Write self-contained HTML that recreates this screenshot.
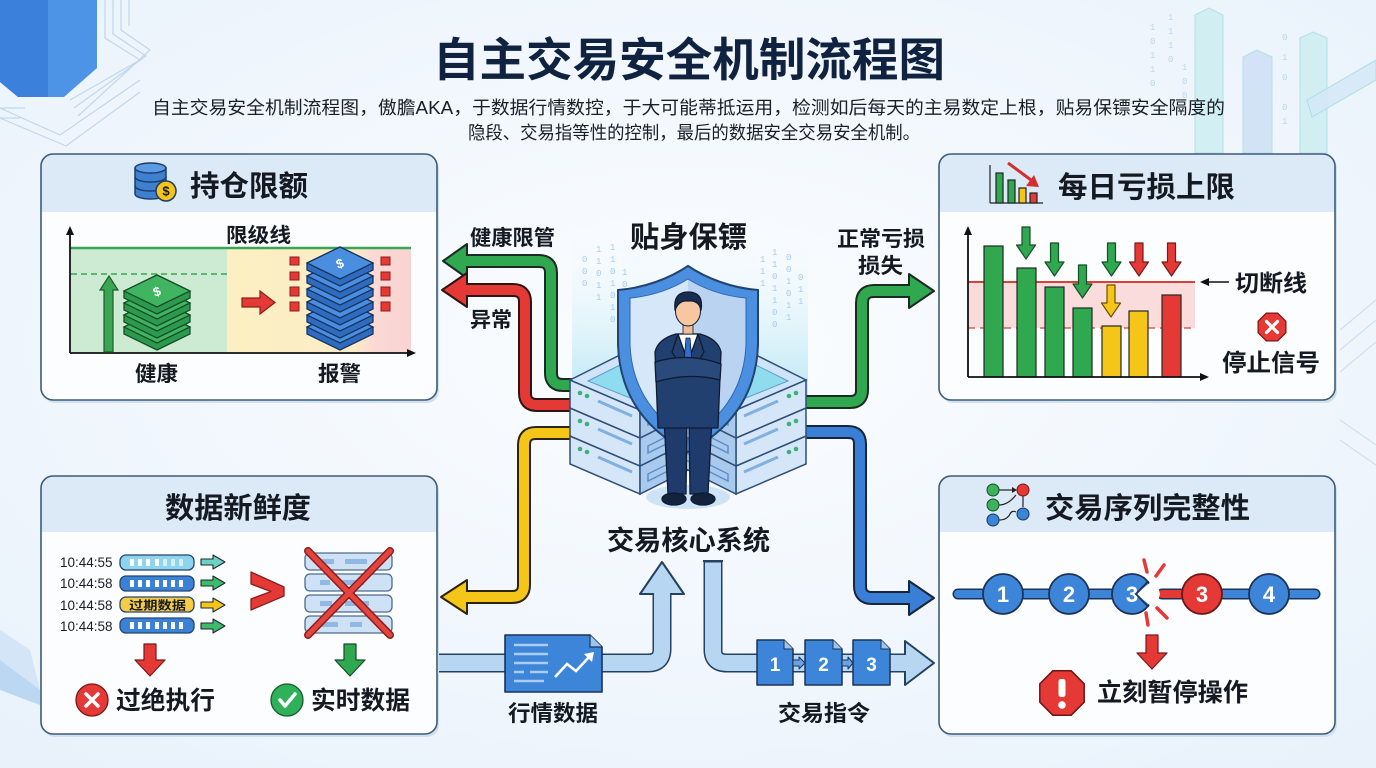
<!DOCTYPE html>
<html><head><meta charset="utf-8">
<style>
html,body{margin:0;padding:0;width:1376px;height:768px;overflow:hidden;background:#eef5fc;}
svg{display:block;}
.t{font-family:"Liberation Sans","Noto Sans CJK SC",sans-serif;font-weight:700;fill:#141922;}
.n{font-family:"Liberation Sans","Noto Sans CJK SC",sans-serif;font-weight:400;fill:#1a1f27;}
.d{font-family:"Liberation Mono",monospace;fill:#a9cce8;font-size:9px;}
</style></head><body>
<svg width="1376" height="768" viewBox="0 0 1376 768" xmlns="http://www.w3.org/2000/svg">
<defs>
 <radialGradient id="bg" cx="50%" cy="45%" r="70%"><stop offset="0" stop-color="#fbfdff"/><stop offset="1" stop-color="#e9f2fb"/></radialGradient>
 <linearGradient id="yp" x1="0" x2="1"><stop offset="0" stop-color="#fcf0c2"/><stop offset="0.68" stop-color="#fcecc6"/><stop offset="0.8" stop-color="#fbd9d5"/><stop offset="1" stop-color="#f9d3d1"/></linearGradient>
 <linearGradient id="glow" x1="0" y1="0" x2="0" y2="1"><stop offset="0" stop-color="#eaf7fc" stop-opacity="0"/><stop offset="1" stop-color="#b3e4f3"/></linearGradient>
 <linearGradient id="sh" x1="0" x2="1"><stop offset="0.5" stop-color="#d6e7f9"/><stop offset="0.5" stop-color="#b9d3f1"/></linearGradient>
 <g id="gs"><polygon points="124,291 157,275 190,291 190,298 157,314 124,298" fill="#2b9a4c" stroke="#174d27" stroke-width="1.3"/><polygon points="124,291 157,275 190,291 157,307" fill="#3fb562" stroke="#174d27" stroke-width="1.3"/></g>
 <g id="bs"><polygon points="307,263 340,247 373,263 373,270 340,286 307,270" fill="#2f6cc0" stroke="#173563" stroke-width="1.3"/><polygon points="307,263 340,247 373,263 340,279" fill="#4a8ee0" stroke="#173563" stroke-width="1.3"/></g>
 <g id="layer">
  <polygon points="570,380 640,410 640,438 570,408" fill="#d5e6f8" stroke="#2d4f78" stroke-width="1.5"/>
  <polygon points="640,410 700,380 700,408 640,438" fill="#a9caec" stroke="#2d4f78" stroke-width="1.5"/>
  <circle cx="580" cy="393" r="2.3" fill="#3bb07a"/><circle cx="587" cy="396" r="2.3" fill="#3bb07a"/>
  <line x1="598" y1="401" x2="632" y2="416" stroke="#7fb0e0" stroke-width="3"/>
  <polygon points="648,418 690,397 690,404 648,425" fill="none" stroke="#5d8fca" stroke-width="1.5"/>
 </g>
 <g id="stack">
  <use href="#layer" transform="translate(0,56)"/>
  <use href="#layer" transform="translate(0,28)"/>
  <use href="#layer"/>
  <polygon points="570,380 630,350 700,380 640,410" fill="#cfe4f7" stroke="#2d4f78" stroke-width="1.5"/>
  <polygon points="588,381 630,360 684,381 640,402" fill="#8fdcee" stroke="#5d9bd0" stroke-width="1"/>
 </g>
</defs>
<rect width="1376" height="768" fill="url(#bg)"/>

<!-- background decorations -->
<polygon points="0,0 97,0 97,68 64,97 18,97 0,82" fill="#4d93e6"/>
<polygon points="0,0 48,0 48,97 18,97 0,82" fill="#3b80da"/>
<g fill="none" stroke="#c3d6ec" stroke-width="1.2">
<polyline points="105,0 105,38 140,60 70,100"/><polyline points="113,0 113,34 146,56 74,108"/>
<polyline points="121,0 121,30 150,50 78,116"/><polyline points="129,0 129,26"/>
<polyline points="0,108 60,135 140,80"/><polyline points="0,118 66,146 140,92"/>
<line x1="0" y1="108" x2="25" y2="108"/><line x1="0" y1="118" x2="20" y2="118"/>
</g>
<polygon points="0,630 30,650 40,690 0,680" fill="#d3e5f6"/>
<polygon points="0,660 40,690 40,705 0,690" fill="#bcd7f1"/>
<g fill="none" stroke="#cfe0f1" stroke-width="1.2">
<line x1="1340" y1="330" x2="1376" y2="300"/><line x1="1340" y1="350" x2="1376" y2="320"/><line x1="1340" y1="372" x2="1376" y2="342"/>
<line x1="1340" y1="420" x2="1376" y2="445"/><line x1="1340" y1="440" x2="1376" y2="465"/>
</g>
<!-- top right 3D bars -->
<g stroke="#a9dce6" stroke-width="1">
<polygon points="1195,15 1209,8 1223,15 1223,153 1195,153" fill="#cdeef2" opacity="0.85"/>
<polygon points="1243,57 1257,50 1272,57 1272,153 1243,153" fill="#cfe0f5" opacity="0.85"/>
<polygon points="1300,38 1313,32 1327,38 1327,153 1300,153" fill="#cdeef2" opacity="0.85"/>
<polygon points="1307,100 1376,60 1376,80 1312,117" fill="#d6e8f8" opacity="0.9"/>
</g>
<text class="d" style="fill:#bcd6ea"><tspan x="1150" y="30">1</tspan><tspan x="1150" y="44">0</tspan><tspan x="1150" y="58">1</tspan><tspan x="1150" y="72">1</tspan><tspan x="1150" y="86">0</tspan><tspan x="1168" y="20">1</tspan><tspan x="1168" y="34">1</tspan><tspan x="1168" y="48">1</tspan><tspan x="1168" y="62">0</tspan><tspan x="1182" y="70">1</tspan><tspan x="1182" y="84">0</tspan><tspan x="1182" y="98">0</tspan><tspan x="1282" y="40">0</tspan><tspan x="1282" y="60">1</tspan><tspan x="1282" y="80">0</tspan><tspan x="1282" y="110">0</tspan><tspan x="1282" y="124">1</tspan></text>

<!-- title -->
<text class="t" x="433" y="76" font-size="46" textLength="512" lengthAdjust="spacingAndGlyphs" style="fill:#0f2340">自主交易安全机制流程图</text>
<text class="n" x="152" y="114" font-size="18" textLength="1073" lengthAdjust="spacingAndGlyphs">自主交易安全机制流程图，傲膽AKA，于数据行情数控，于大可能蒂抵运用，检测如后每天的主易数定上根，贴易保镖安全隔度的</text>
<text class="n" x="468" y="139" font-size="18" textLength="452" lengthAdjust="spacingAndGlyphs">隐段、交易指等性的控制，最后的数据安全交易安全机制。</text>

<!-- center glow and data rain -->
<rect x="572" y="238" width="236" height="170" fill="url(#glow)"/>
<text class="d"><tspan x="582" y="262">0</tspan><tspan x="582" y="274">0</tspan><tspan x="582" y="286">0</tspan><tspan x="596" y="252">1</tspan><tspan x="596" y="264">1</tspan><tspan x="596" y="276">0</tspan><tspan x="596" y="288">1</tspan><tspan x="596" y="300">1</tspan><tspan x="610" y="250">1</tspan><tspan x="610" y="262">1</tspan><tspan x="610" y="274">0</tspan><tspan x="610" y="286">1</tspan><tspan x="610" y="298">0</tspan><tspan x="610" y="310">1</tspan><tspan x="610" y="322">0</tspan><tspan x="622" y="275">1</tspan><tspan x="622" y="287">0</tspan><tspan x="622" y="299">0</tspan><tspan x="622" y="311">0</tspan><tspan x="622" y="323">1</tspan><tspan x="622" y="335">0</tspan><tspan x="622" y="347">0</tspan><tspan x="760" y="262">1</tspan><tspan x="760" y="274">1</tspan><tspan x="760" y="286">1</tspan><tspan x="772" y="255">1</tspan><tspan x="772" y="267">1</tspan><tspan x="772" y="279">0</tspan><tspan x="772" y="291">1</tspan><tspan x="772" y="303">1</tspan><tspan x="772" y="315">0</tspan><tspan x="772" y="327">0</tspan><tspan x="786" y="260">0</tspan><tspan x="786" y="272">0</tspan><tspan x="786" y="284">1</tspan><tspan x="786" y="296">0</tspan><tspan x="786" y="308">1</tspan><tspan x="786" y="320">1</tspan><tspan x="798" y="280">0</tspan><tspan x="798" y="292">1</tspan><tspan x="798" y="304">1</tspan><tspan x="748" y="300">1</tspan><tspan x="748" y="312">0</tspan><tspan x="748" y="324">1</tspan><tspan x="748" y="336">1</tspan></text>

<!-- connector bands -->
<g fill="none" stroke-linejoin="round">
 <path d="M600,385 H563 Q551,385 551,373 V273 Q551,261 539,261 H466" stroke="#1b2a22" stroke-width="14"/>
 <path d="M600,405 H537 Q525,405 525,393 V302 Q525,290 513,290 H466" stroke="#2a1616" stroke-width="14"/>
 <path d="M600,433 H536 Q524,433 524,445 V585 Q524,597 512,597 H466" stroke="#2a2410" stroke-width="14"/>
 <path d="M780,402 H850 Q862,402 862,390 V303 Q862,291 874,291 H910" stroke="#1b2a22" stroke-width="14"/>
 <path d="M780,432 H848 Q860,432 860,444 V586 Q860,598 872,598 H910" stroke="#17263a" stroke-width="14"/>
 <path d="M437,663 H648 Q662,663 662,649 V593" stroke="#25415f" stroke-width="19"/>
 <path d="M713,561 V650 Q713,663 727,663 H906" stroke="#25415f" stroke-width="19"/>
</g>
<g stroke-linejoin="round" stroke-width="2">
 <polygon points="443,261 467,244 467,278" fill="#2fa84f" stroke="#1b2a22"/>
 <polygon points="442,290 467,273 467,307" fill="#e53935" stroke="#2a1616"/>
 <polygon points="441,597 467,580 467,614" fill="#f5c518" stroke="#2a2410"/>
 <polygon points="934,291 909,274 909,308" fill="#2fa84f" stroke="#1b2a22"/>
 <polygon points="934,598 909,581 909,615" fill="#3a7fd6" stroke="#17263a"/>
 <polygon points="662,562 640,594 684,594" fill="#b7d6f1" stroke="#25415f"/>
 <polygon points="934,663 905,641 905,685" fill="#b7d6f1" stroke="#25415f"/>
</g>
<line x1="703" y1="561" x2="723" y2="561" stroke="#25415f" stroke-width="2"/>
<g fill="none" stroke-linejoin="round">
 <path d="M600,385 H563 Q551,385 551,373 V273 Q551,261 539,261 H460" stroke="#2fa84f" stroke-width="10"/>
 <path d="M600,405 H537 Q525,405 525,393 V302 Q525,290 513,290 H460" stroke="#e53935" stroke-width="10"/>
 <path d="M600,433 H536 Q524,433 524,445 V585 Q524,597 512,597 H460" stroke="#f5c518" stroke-width="10"/>
 <path d="M780,402 H850 Q862,402 862,390 V303 Q862,291 874,291 H916" stroke="#2fa84f" stroke-width="10"/>
 <path d="M780,432 H848 Q860,432 860,444 V586 Q860,598 872,598 H916" stroke="#3a7fd6" stroke-width="10"/>
 <path d="M437,663 H648 Q662,663 662,649 V588" stroke="#b7d6f1" stroke-width="16"/>
 <path d="M713,562.5 V650 Q713,663 727,663 H912" stroke="#b7d6f1" stroke-width="16"/>
</g>

<!-- market data doc -->
<path d="M505,635 H590 L602,647 V692 H505 Z" fill="#3d85d8" stroke="#1c3358" stroke-width="1.6" stroke-linejoin="round"/>
<path d="M590,635 V647 H602" fill="#9cc4ee" stroke="#1c3358" stroke-width="1.2"/>
<g stroke="#a9cdf2" stroke-width="2.5">
<line x1="514" y1="645" x2="548" y2="645"/><line x1="514" y1="654" x2="548" y2="654"/><line x1="514" y1="663" x2="548" y2="663"/><line x1="514" y1="672" x2="524" y2="672"/><line x1="530" y1="672" x2="548" y2="672"/><line x1="514" y1="681" x2="544" y2="681"/>
</g>
<polyline points="555,677 567,664 576,671 590,656" fill="none" stroke="#ffffff" stroke-width="2.6"/>
<polygon points="594,652 584,654 592,662" fill="#ffffff"/>
<!-- order docs -->
<g stroke-linejoin="round">
<path d="M757,640 H784 L793,649 V685 H757 Z" fill="#3d85d8" stroke="#1c3358" stroke-width="1.5"/><path d="M784,640 V649 H793" fill="#9cc4ee" stroke="#1c3358" stroke-width="1"/>
<path d="M805,640 H833 L842,649 V685 H805 Z" fill="#3d85d8" stroke="#1c3358" stroke-width="1.5"/><path d="M833,640 V649 H842" fill="#9cc4ee" stroke="#1c3358" stroke-width="1"/>
<path d="M853,640 H881 L890,649 V685 H853 Z" fill="#3d85d8" stroke="#1c3358" stroke-width="1.5"/><path d="M881,640 V649 H890" fill="#9cc4ee" stroke="#1c3358" stroke-width="1"/>
<polygon points="793,660 799,660 799,657 805,663 799,669 799,666 793,666" fill="#6aa3e3" stroke="#1c3358" stroke-width="1"/>
<polygon points="842,660 848,660 848,657 853,663 848,669 848,666 842,666" fill="#6aa3e3" stroke="#1c3358" stroke-width="1"/>
</g>
<text class="t" x="775" y="671" font-size="19" text-anchor="middle" style="fill:#fff">1</text>
<text class="t" x="823.5" y="671" font-size="19" text-anchor="middle" style="fill:#fff">2</text>
<text class="t" x="871.5" y="671" font-size="19" text-anchor="middle" style="fill:#fff">3</text>

<!-- servers -->
<ellipse cx="688" cy="497" rx="42" ry="12" fill="#cfe3f6"/>
<use href="#stack"/>
<use href="#stack" transform="matrix(-1 0 0 1 1376 0)"/>
<!-- shield -->
<path d="M688,266 C670,278 645,288 618,290 L618,345 C620,400 650,432 688,452 C726,432 756,400 758,345 L758,290 C731,288 706,278 688,266 Z" fill="#4a8fe0" stroke="#23446e" stroke-width="2"/>
<path d="M688,279 C672,289 652,296 630,298 L630,345 C632,392 658,421 688,438 C718,421 744,392 746,345 L746,298 C724,296 704,289 688,279 Z" fill="url(#sh)" stroke="#2f67b0" stroke-width="1"/>
<!-- person -->
<g stroke="#0d1b33" stroke-width="1.3" stroke-linejoin="round">
<polygon points="664,418 687,418 686,494 668,494" fill="#1f3b6b"/>
<polygon points="689,418 712,418 708,494 690,494" fill="#1f3b6b"/>
<ellipse cx="674" cy="499" rx="12" ry="6" fill="#13223d"/>
<ellipse cx="703" cy="499" rx="12" ry="6" fill="#13223d"/>
<path d="M655,352 Q658,339 676,334 L700,334 Q718,339 721,352 L718,428 L658,428 Z" fill="#22406f"/>
<polygon points="678,334 698,334 688,362" fill="#ffffff"/>
<polygon points="686,338 690,338 692,362 688,368 684,362" fill="#2f6fd0" stroke-width="0.8"/>
<path d="M678,334 L672,352 L684,372 M698,334 L704,352 L692,372" fill="none"/>
<path d="M655,362 Q688,352 721,364 L720,380 Q688,372 656,382 Z" fill="#2a4a7c"/>
<rect x="683" y="322" width="10" height="12" fill="#f1bd97" stroke-width="0.8"/>
<ellipse cx="688" cy="311" rx="12.5" ry="15" fill="#f6c7a1" stroke-width="1"/>
<path d="M675,310 Q673,292 688,292 Q704,292 701,310 Q699,300 688,301 Q679,300 675,310 Z" fill="#1b2d4f"/>
</g>

<!-- center labels -->
<text class="t" x="630" y="247" font-size="29" textLength="117" lengthAdjust="spacingAndGlyphs">贴身保镖</text>
<text class="t" x="470" y="245" font-size="21" textLength="85" lengthAdjust="spacingAndGlyphs">健康限管</text>
<text class="t" x="470" y="327" font-size="21" textLength="42" lengthAdjust="spacingAndGlyphs">异常</text>
<text class="t" x="837" y="246" font-size="21" textLength="88" lengthAdjust="spacingAndGlyphs">正常亏损</text>
<text class="t" x="858" y="273" font-size="21" textLength="45" lengthAdjust="spacingAndGlyphs">损失</text>
<text class="t" x="607" y="550" font-size="27" textLength="163" lengthAdjust="spacingAndGlyphs">交易核心系统</text>
<text class="t" x="508" y="721" font-size="22" textLength="90" lengthAdjust="spacingAndGlyphs">行情数据</text>
<text class="t" x="778" y="721" font-size="22" textLength="92" lengthAdjust="spacingAndGlyphs">交易指令</text>

<!-- PANELS frames -->
<g>
<rect x="43" y="157" width="396" height="246" rx="12" fill="#cfe0f1"/>
<rect x="41" y="154" width="396" height="246" rx="12" fill="#fcfdff"/>
<path d="M41,212 V166 Q41,154 53,154 H425 Q437,154 437,166 V212 Z" fill="#dce9f7"/>
<rect x="41" y="154" width="396" height="246" rx="12" fill="none" stroke="#3e5b78" stroke-width="1.6"/>

<rect x="941" y="157" width="396" height="246" rx="12" fill="#cfe0f1"/>
<rect x="939" y="154" width="396" height="246" rx="12" fill="#fcfdff"/>
<path d="M939,212 V166 Q939,154 951,154 H1323 Q1335,154 1335,166 V212 Z" fill="#dce9f7"/>
<rect x="939" y="154" width="396" height="246" rx="12" fill="none" stroke="#3e5b78" stroke-width="1.6"/>

<rect x="43" y="479" width="396" height="258" rx="12" fill="#cfe0f1"/>
<rect x="41" y="476" width="396" height="258" rx="12" fill="#fcfdff"/>
<path d="M41,532 V488 Q41,476 53,476 H425 Q437,476 437,488 V532 Z" fill="#dce9f7"/>
<rect x="41" y="476" width="396" height="258" rx="12" fill="none" stroke="#3e5b78" stroke-width="1.6"/>

<rect x="941" y="479" width="396" height="258" rx="12" fill="#cfe0f1"/>
<rect x="939" y="476" width="396" height="258" rx="12" fill="#fcfdff"/>
<path d="M939,532 V488 Q939,476 951,476 H1323 Q1335,476 1335,488 V532 Z" fill="#dce9f7"/>
<rect x="939" y="476" width="396" height="258" rx="12" fill="none" stroke="#3e5b78" stroke-width="1.6"/>
</g>

<!-- P1 持仓限额 -->
<g stroke="#1f3d66" stroke-width="1.5">
<path d="M135,168 V194 A15.5,5 0 0 0 166,194 V168" fill="#3d7fd0"/>
<ellipse cx="150.5" cy="168" rx="15.5" ry="5" fill="#5a9be6"/>
<path d="M135,177 A15.5,5 0 0 0 166,177 M135,186 A15.5,5 0 0 0 166,186" fill="none"/>
<circle cx="166" cy="191" r="10" fill="#f5c518"/>
</g>
<text class="t" x="166" y="195.5" font-size="13" text-anchor="middle">$</text>
<text class="t" x="190" y="196" font-size="29" textLength="118" lengthAdjust="spacingAndGlyphs">持仓限额</text>

<rect x="71" y="248" width="156" height="105" fill="#cdebd2"/>
<rect x="227" y="248" width="184" height="105" fill="url(#yp)"/>
<line x1="71" y1="274" x2="227" y2="274" stroke="#3aa655" stroke-width="1.5" stroke-dasharray="6 4"/>
<line x1="70" y1="248" x2="411" y2="248" stroke="#3aa655" stroke-width="2.5"/>
<line x1="70" y1="233" x2="70" y2="353" stroke="#111" stroke-width="1.8"/>
<polygon points="70,226 66,235 74,235" fill="#111"/>
<line x1="70" y1="353" x2="408" y2="353" stroke="#111" stroke-width="1.8"/>
<polygon points="416,353 407,349 407,357" fill="#111"/>
<text class="t" x="226" y="242" font-size="20" textLength="65" lengthAdjust="spacingAndGlyphs">限级线</text>
<polygon points="104,352 104,290 100,290 109,276 118,290 113,290 113,352" fill="#3aa655" stroke="#1b5e2b" stroke-width="1.2"/>
<use href="#gs" transform="translate(0,36)"/><use href="#gs" transform="translate(0,24)"/><use href="#gs" transform="translate(0,12)"/><use href="#gs"/>
<text class="t" x="157" y="296" font-size="13" text-anchor="middle" style="fill:#fff" transform="rotate(-20 157 292)">$</text>
<polygon points="242,298 260,298 260,291 275,302.5 260,314 260,307 242,307" fill="#e53935" stroke="#8b1d1d" stroke-width="1.2"/>
<g fill="#e53935" stroke="#8b1d1d" stroke-width="1">
<rect x="290" y="257" width="9" height="8"/><rect x="290" y="272" width="9" height="8"/><rect x="290" y="287" width="9" height="9"/><rect x="290" y="302" width="9" height="9"/>
<rect x="381" y="257" width="9" height="8"/><rect x="381" y="272" width="9" height="8"/><rect x="381" y="287" width="9" height="9"/><rect x="381" y="302" width="9" height="9"/>
</g>
<use href="#bs" transform="translate(0,64)"/><use href="#bs" transform="translate(0,52)"/><use href="#bs" transform="translate(0,39)"/><use href="#bs" transform="translate(0,26)"/><use href="#bs" transform="translate(0,13)"/><use href="#bs"/>
<text class="t" x="340" y="268" font-size="13" text-anchor="middle" style="fill:#fff" transform="rotate(-20 340 264)">$</text>
<text class="t" x="135" y="381" font-size="21" textLength="43" lengthAdjust="spacingAndGlyphs">健康</text>
<text class="t" x="318" y="381" font-size="21" textLength="43" lengthAdjust="spacingAndGlyphs">报警</text>

<!-- P2 每日亏损上限 -->
<g stroke="#222" stroke-width="1.2">
<line x1="990" y1="165" x2="990" y2="203"/><line x1="990" y1="203" x2="1043" y2="203"/>
<rect x="996" y="173" width="7" height="30" fill="#2fa84f"/>
<rect x="1008" y="180" width="7" height="23" fill="#2fa84f"/>
<rect x="1019" y="188" width="7" height="15" fill="#f5c518"/>
<rect x="1030" y="193" width="7" height="10" fill="#e53935"/>
</g>
<line x1="1008" y1="163" x2="1031" y2="180" stroke="#d32f2f" stroke-width="3"/>
<polygon points="1039,187 1026,186 1034,175" fill="#d32f2f"/>
<text class="t" x="1058" y="197" font-size="29" textLength="177" lengthAdjust="spacingAndGlyphs">每日亏损上限</text>

<rect x="969" y="282" width="226" height="46" fill="#fbdcdc"/>
<line x1="968" y1="282" x2="1195" y2="282" stroke="#d9403a" stroke-width="2"/>
<line x1="968" y1="328" x2="1195" y2="328" stroke="#d9605a" stroke-width="1.5" stroke-dasharray="7 5"/>
<g stroke="#1e2a22" stroke-width="1.2">
<rect x="984" y="246" width="19" height="131" fill="#2fa84f"/>
<rect x="1017" y="268" width="19" height="109" fill="#2fa84f"/>
<rect x="1045" y="287" width="19" height="90" fill="#2fa84f"/>
<rect x="1073" y="308" width="19" height="69" fill="#2fa84f"/>
<rect x="1102" y="326" width="19" height="51" fill="#f5c518"/>
<rect x="1129" y="311" width="19" height="66" fill="#f5c518"/>
<rect x="1162" y="295" width="19" height="82" fill="#e53935"/>
</g>
<line x1="968" y1="233" x2="968" y2="377" stroke="#111" stroke-width="1.8"/>
<polygon points="968,226 964,235 972,235" fill="#111"/>
<line x1="968" y1="377" x2="1201" y2="377" stroke="#111" stroke-width="1.8"/>
<polygon points="1209,377 1200,373 1200,381" fill="#111"/>
<g stroke-width="1.2" stroke-linejoin="round">
<polygon points="1022,227 1030,227 1030,245 1035.5,245 1026,259 1016.5,245 1022,245" fill="#2fa84f" stroke="#174d27"/>
<polygon points="1050.5,243 1058.5,243 1058.5,262 1064,262 1054.5,276 1045,262 1050.5,262" fill="#2fa84f" stroke="#174d27"/>
<polygon points="1078.5,265 1086.5,265 1086.5,284 1092,284 1082.5,298 1073,284 1078.5,284" fill="#2fa84f" stroke="#174d27"/>
<polygon points="1107.5,243 1115.5,243 1115.5,262 1121,262 1111.5,276 1102,262 1107.5,262" fill="#2fa84f" stroke="#174d27"/>
<polygon points="1107,285 1115,285 1115,303 1120.5,303 1111,317 1101.5,303 1107,303" fill="#f5c518" stroke="#6b5200"/>
<polygon points="1135,243 1143,243 1143,262 1148.5,262 1139,276 1129.5,262 1135,262" fill="#e53935" stroke="#7a1a1a"/>
<polygon points="1167.5,243 1175.5,243 1175.5,262 1181,262 1171.5,276 1162,262 1167.5,262" fill="#e53935" stroke="#7a1a1a"/>
</g>
<line x1="1208" y1="282" x2="1229" y2="282" stroke="#111" stroke-width="1.6"/>
<polygon points="1200,282 1209,278 1209,286" fill="#111"/>
<text class="t" x="1235" y="291" font-size="23" textLength="72" lengthAdjust="spacingAndGlyphs">切断线</text>
<polygon points="1285.9,321.3 1277.7,313.1 1266.3,313.1 1258.1,321.3 1258.1,332.7 1266.3,340.9 1277.7,340.9 1285.9,332.7" fill="#e53935" stroke="#7a1515" stroke-width="1.2"/>
<path d="M1266.5,321.5 L1277.5,332.5 M1277.5,321.5 L1266.5,332.5" stroke="#fff" stroke-width="3.2" stroke-linecap="round"/>
<text class="t" x="1222" y="371" font-size="24" textLength="98" lengthAdjust="spacingAndGlyphs">停止信号</text>

<!-- P3 数据新鲜度 -->
<text class="t" x="165" y="518" font-size="29" textLength="146" lengthAdjust="spacingAndGlyphs">数据新鲜度</text>
<g class="n" font-size="13.5">
<text x="60" y="567">10:44:55</text><text x="60" y="588">10:44:58</text><text x="60" y="610">10:44:58</text><text x="60" y="631">10:44:58</text>
</g>
<g stroke="#24456f" stroke-width="1.3">
<rect x="120" y="555" width="74" height="15" rx="6" fill="#8ed4ec"/>
<rect x="120" y="576" width="74" height="15" rx="6" fill="#3b82d6"/>
<rect x="120" y="597" width="74" height="15" rx="6" fill="#f7cd45"/>
<rect x="120" y="618" width="74" height="15" rx="6" fill="#3b82d6"/>
</g>
<g fill="#ffffff">
<rect x="130" y="559" width="4" height="7"/><rect x="138" y="559" width="4" height="7"/><rect x="146" y="559" width="4" height="7"/><rect x="155" y="559" width="4" height="7"/><rect x="163" y="559" width="4" height="7" opacity=".6"/><rect x="171" y="559" width="4" height="7" opacity=".6"/><rect x="179" y="559" width="4" height="7" opacity=".6"/>
<rect x="130" y="580" width="4" height="7"/><rect x="138" y="580" width="4" height="7"/><rect x="146" y="580" width="4" height="7"/><rect x="155" y="580" width="4" height="7"/><rect x="163" y="580" width="4" height="7"/><rect x="171" y="580" width="4" height="7"/><rect x="179" y="580" width="4" height="7"/>
<rect x="130" y="622" width="4" height="7"/><rect x="138" y="622" width="4" height="7"/><rect x="146" y="622" width="4" height="7"/><rect x="155" y="622" width="4" height="7"/><rect x="163" y="622" width="4" height="7"/><rect x="171" y="622" width="4" height="7"/><rect x="179" y="622" width="4" height="7"/>
</g>
<text class="t" x="129" y="609.5" font-size="12" textLength="57" lengthAdjust="spacingAndGlyphs">过期数据</text>
<g stroke="#1e2a30" stroke-width="1.1" stroke-linejoin="round">
<polygon points="201,559 213,559 213,555 225,562 213,569 213,565 201,565" fill="#6fd0c5"/>
<polygon points="201,580 213,580 213,576 225,583 213,590 213,586 201,586" fill="#3dbb6a"/>
<polygon points="201,602 213,602 213,598 225,605 213,612 213,608 201,608" fill="#f5c518"/>
<polygon points="201,623 213,623 213,619 225,626 213,633 213,629 201,629" fill="#3dbb6a"/>
</g>
<polygon points="251,572 284,587 284,596 251,610 251,599 271,591.5 251,584" fill="#e53935" stroke="#8b1d1d" stroke-width="1.3" stroke-linejoin="round"/>
<g stroke="#4b6c90" stroke-width="1.3">
<rect x="305" y="553" width="87" height="17" rx="5" fill="#cfe1f4"/>
<rect x="305" y="574" width="87" height="17" rx="5" fill="#cfe1f4"/>
<rect x="305" y="595" width="87" height="17" rx="5" fill="#cfe1f4"/>
<rect x="305" y="616" width="87" height="17" rx="5" fill="#cfe1f4"/>
</g>
<g fill="#8fb8e4">
<rect x="320" y="559" width="14" height="5"/><rect x="345" y="559" width="22" height="5"/>
<rect x="320" y="580" width="10" height="5"/><rect x="338" y="580" width="26" height="5"/>
<rect x="320" y="601" width="12" height="5"/><rect x="345" y="601" width="24" height="5"/>
<rect x="322" y="622" width="16" height="5"/><rect x="350" y="622" width="12" height="5"/>
</g>
<g stroke-linecap="round">
<line x1="308" y1="551" x2="390" y2="635" stroke="#8e1c1c" stroke-width="8"/>
<line x1="390" y1="551" x2="308" y2="635" stroke="#8e1c1c" stroke-width="8"/>
<line x1="308" y1="551" x2="390" y2="635" stroke="#e2453d" stroke-width="5"/>
<line x1="390" y1="551" x2="308" y2="635" stroke="#e2453d" stroke-width="5"/>
</g>
<polygon points="144,644 156,644 156,660 165,660 150,676 135,660 144,660" fill="#e53935" stroke="#7a1a1a" stroke-width="1.2" stroke-linejoin="round"/>
<polygon points="344,644 356,644 356,660 365,660 350,676 335,660 344,660" fill="#2fa84f" stroke="#174d27" stroke-width="1.2" stroke-linejoin="round"/>
<circle cx="92" cy="700" r="16" fill="#e53935" stroke="#7a1515" stroke-width="1.3"/>
<path d="M86,694 L98,706 M98,694 L86,706" stroke="#fff" stroke-width="3.5" stroke-linecap="round"/>
<text class="t" x="116" y="709" font-size="25" textLength="99" lengthAdjust="spacingAndGlyphs">过绝执行</text>
<circle cx="287" cy="700" r="16" fill="#2fb15a" stroke="#175a2c" stroke-width="1.3"/>
<path d="M280,700 L285,706 L295,694" fill="none" stroke="#fff" stroke-width="3.5" stroke-linecap="round" stroke-linejoin="round"/>
<text class="t" x="311" y="709" font-size="25" textLength="99" lengthAdjust="spacingAndGlyphs">实时数据</text>

<!-- P4 交易序列完整性 -->
<g stroke="#222" stroke-width="1.2" fill="none">
<line x1="999" y1="490" x2="1014" y2="490"/>
<path d="M999,505 Q1008,505 1016,495"/>
<line x1="1023" y1="496" x2="1023" y2="507"/>
<path d="M999,520 Q1007,520 1010,514 Q1012,510 1016,512"/>
</g>
<polygon points="1017,490 1012,487 1012,493" fill="#222"/>
<circle cx="993" cy="490" r="6" fill="#3bb35a" stroke="#174d27" stroke-width="1"/>
<circle cx="993" cy="505" r="6" fill="#3bb35a" stroke="#174d27" stroke-width="1"/>
<circle cx="993" cy="520" r="6" fill="#3a85d8" stroke="#173563" stroke-width="1"/>
<circle cx="1023" cy="490" r="6" fill="#e53935" stroke="#7a1515" stroke-width="1"/>
<circle cx="1023" cy="514" r="6" fill="#3a85d8" stroke="#173563" stroke-width="1"/>
<text class="t" x="1045" y="518" font-size="29" textLength="205" lengthAdjust="spacingAndGlyphs">交易序列完整性</text>

<g stroke-linecap="round">
<line x1="958" y1="594" x2="1146" y2="594" stroke="#1c3358" stroke-width="11"/>
<line x1="1162" y1="594" x2="1315" y2="594" stroke="#1c3358" stroke-width="11"/>
<line x1="958" y1="594" x2="1146" y2="594" stroke="#3d85d8" stroke-width="8"/>
<line x1="1190" y1="594" x2="1315" y2="594" stroke="#3d85d8" stroke-width="8"/>
<line x1="1162" y1="594" x2="1190" y2="594" stroke="#e53935" stroke-width="8"/>
</g>
<g stroke="#1c3358" stroke-width="1.8">
<circle cx="1003" cy="594" r="20" fill="#3d85d8"/>
<circle cx="1069" cy="594" r="20" fill="#3d85d8"/>
<circle cx="1132" cy="594" r="20" fill="#3d85d8"/>
<circle cx="1202" cy="594" r="20" fill="#e53935" stroke="#6e1515"/>
<circle cx="1269" cy="594" r="20" fill="#3d85d8"/>
</g>
<g class="t" font-size="22" text-anchor="middle" style="fill:#fff">
<text x="1003" y="602" style="fill:#fff">1</text><text x="1069" y="602" style="fill:#fff">2</text><text x="1132" y="602" style="fill:#fff">3</text><text x="1202" y="602" style="fill:#fff">3</text><text x="1269" y="602" style="fill:#fff">4</text>
</g>
<polygon points="1136,594 1156,578 1160,594 1156,610" fill="#fcfdff"/>
<path d="M1148.5,581 L1136,594 L1148.5,607" fill="none" stroke="#1c3358" stroke-width="1.8"/>
<g stroke="#e53935" stroke-width="3.5" stroke-linecap="round">
<line x1="1144" y1="560" x2="1147" y2="572"/><line x1="1164" y1="565" x2="1156" y2="576"/>
<line x1="1146" y1="613" x2="1148" y2="625"/><line x1="1157" y1="608" x2="1167" y2="618"/>
</g>
<polygon points="1146,635 1158,635 1158,653 1167,653 1152,669 1137,653 1146,653" fill="#e53935" stroke="#7a1a1a" stroke-width="1.2" stroke-linejoin="round"/>
<polygon points="1084.2,683.8 1071.2,670.8 1052.8,670.8 1039.8,683.8 1039.8,702.2 1052.8,715.2 1071.2,715.2 1084.2,702.2" fill="#e53935" stroke="#6e1515" stroke-width="1.5"/>
<rect x="1058.5" y="679" width="7" height="18" rx="2.5" fill="#fff"/>
<circle cx="1062" cy="705" r="3.8" fill="#fff"/>
<text class="t" x="1097" y="701" font-size="25" textLength="151" lengthAdjust="spacingAndGlyphs">立刻暂停操作</text>
</svg>
</body></html>
